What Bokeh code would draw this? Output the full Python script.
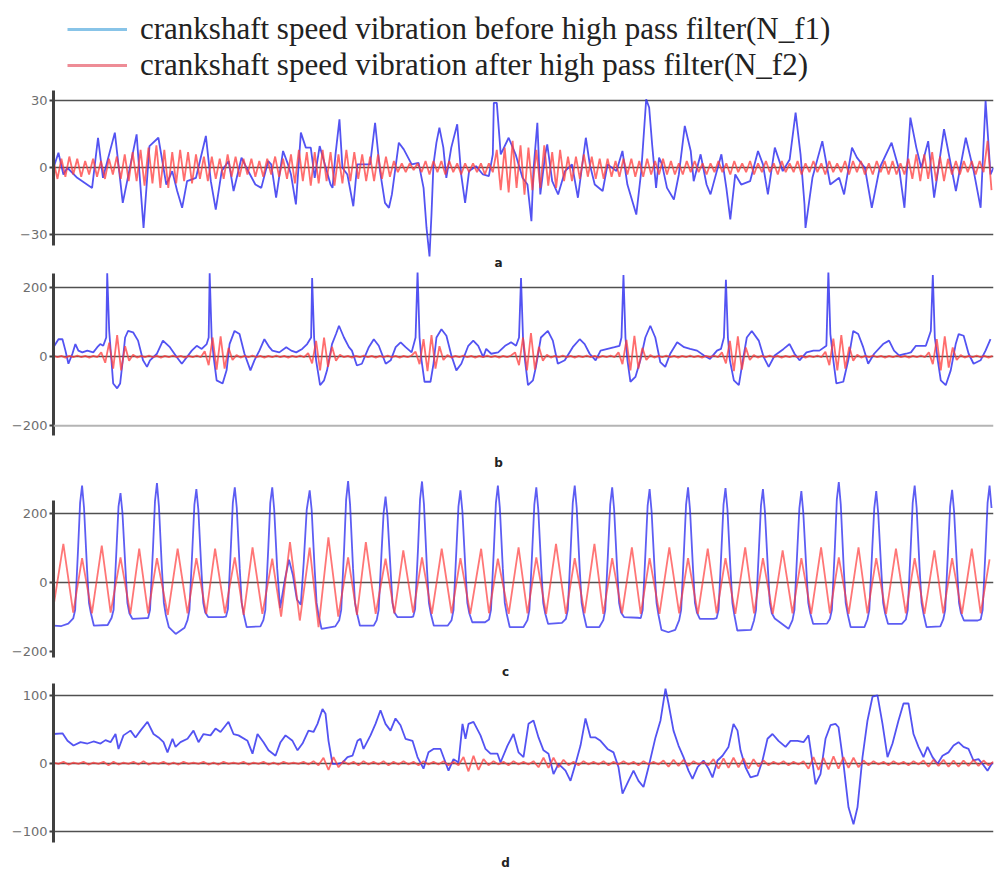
from bokeh.plotting import figure
from bokeh.models import (Range1d, FixedTicker, Legend, LegendItem, Label, Span)
from bokeh.layouts import column
from bokeh.embed import file_html
from bokeh.resources import INLINE
import numpy as np

# ---------------------------------------------------------------- data
legend_labels = [
    "crankshaft speed vibration before high pass filter(N_f1)",
    "crankshaft speed vibration after high pass filter(N_f2)",
]
panel_names = ["a", "b", "c", "d"]

ticks_a = [-30, 0, 30]
ticks_b = [-200, 0, 200]
ticks_c = [-200, 0, 200]
ticks_d = [-100, 0, 100]

# (a) speed vibration before filtering: sample time / value
blue_a_t = [0, 5, 10, 14, 24, 39, 45, 50, 62, 70,
            84, 91, 97, 106, 114, 120, 125, 130, 135, 144,
            154, 159, 164, 170, 177, 182, 190, 195, 204, 210,
            217, 220, 225, 232, 237, 240, 245, 250, 255, 260,
            264, 269, 280, 282, 285, 289, 292, 297, 303, 307,
            320, 325, 330, 335, 339, 342, 349, 354, 362, 369,
            374, 377, 380, 382, 384, 387, 390, 394, 397, 402,
            408, 412, 416, 420, 427, 434, 440, 444, 445, 448,
            452, 460, 467, 474, 479, 483, 485, 489, 492, 497,
            499, 504, 510, 517, 524, 530, 534, 538, 542, 547,
            555, 560, 569, 575, 580, 589, 594, 599, 602, 605,
            609, 612, 615, 620, 627, 632, 638, 644, 647, 654,
            660, 664, 675, 680, 684, 689, 695, 704, 712, 717,
            722, 729, 737, 744, 750, 755, 759, 760, 767, 777,
            785, 794, 799, 807, 812, 820, 827, 835, 847, 855,
            860, 866, 872, 877, 884, 890, 900, 912, 922, 930,
            937, 942, 947, 950]
blue_a_v = [0, 6.7, -3, 0, -4.5, -9, 13.4, -4.5, 15.7, -15.7,
            14.9, -26.9, 9.7, 13.4, -7.5, -1.5, -10.4, -17.9, -6, -4.5,
            14.2, -6, -18.7, -1.5, 3, -10.4, 4.5, 0, -7.5, -9,
            3, 1.5, -13.4, 7.5, 1.5, -3, -16.4, 15.7, 9, 9,
            -4.5, 9.7, -7.5, -9, 6, 21.6, 0, -3, -17.2, 1.5,
            1.5, 20.1, -1.5, -15.7, -17.9, -11.9, 11.2, 8.2, 1.5, 2.2,
            -9, -26.9, -39.6, -20.9, 1.5, 11.2, 17.9, 9, -4.5, 9,
            19.4, -3, -15.7, -1.5, 0.7, -3, -3.7, 6, 29, 29,
            6, 13.4, 6, -4.5, -7.5, -23.9, -1.5, 20.1, -11.9, 6,
            10.4, -6, -11.9, -1.5, 1.5, -13.4, 0, 13.4, 1.5, -7.5,
            -10.4, 1.5, -1.5, 7.5, -7.5, -20.9, -1.5, 30.6, 26.9, 10.4,
            -9, 4.5, 1.5, -9, -14.2, -3, 18.7, 7.5, -6, 6,
            -7.5, -11.9, 6, -9, -23.1, -3, -7.5, -6, 7.5, 1.5,
            -11.9, 9, -1.5, 3.7, 24.6, 6, -16.4, -26.9, -4.5, 11.9,
            -7.5, -4.5, -11.9, 9, 4.5, 0, -17.9, 0, 11.2, -1.5,
            -17.9, 22.4, 9, 0, 11.9, -13.4, 17.2, -10.4, 13.4, -1.5,
            -17.9, 29.9, -3, 0]

# (a) after filtering, one value every 4 samples
red_a_step = 4
red_a_v = [3, -5, 4, -4, 5, -3, 4, -4, 3, -3, 4, -4, 3, -5, 4, -3, 5, -5, 6, -6,
           7, -6, 8, -8, 9, -7, 10, -9, 8, -9, 7, -7, 8, -6, 7, -7, 6, -5, 5, -6,
           5, -5, 4, -5, 6, -4, 5, -4, 4, -3, 4, -4, 3, -4, 4, -3, 5, -4, 4, -5,
           6, -7, 8, -6, 7, -8, 7, -7, 8, -6, 7, -8, 6, -7, 8, -6, 7, -5, 6, -6,
           5, -6, 6, -5, 5, -4, 3, -2, 2, -2, 2, -1, 2, -2, 3, -3, 3, -2, 3, -3,
           3, -2, 2, -3, 2, -2, 2, -2, 2, -3, 2, -2, 8, -10, 9, -11, 12, -9, 10, -12,
           9, -10, 8, -9, 10, -8, 7, -9, 8, -6, 5, -6, 5, -5, 6, -4, 5, -5, 4, -5,
           4, -4, 3, -4, 4, -3, 4, -4, 3, -4, 4, -3, 3, -3, 4, -3, 3, -3, 2, -3,
           3, -2, 3, -2, 2, -3, 2, -2, 3, -2, 2, -3, 3, -2, 2, -2, 3, -3, 2, -2,
           3, -2, 2, -3, 3, -2, 2, -2, 3, -3, 2, -2, 3, -2, 2, -3, 3, -2, 2, -2,
           3, -3, 3, -2, 3, -3, 2, -3, 3, -2, 3, -3, 3, -3, 2, -3, 4, -5, 6, -6,
           6, -5, 7, -6, 5, -6, 4, -3, 3, -3, 3, -2, 3, -3, 3, -2, 12, -10]

# (b)
blue_b_t = [0, 5, 9, 12, 15, 19, 22, 25, 29, 34,
            40, 44, 47, 50, 53, 54, 56, 58, 60, 64,
            67, 70, 72, 75, 80, 85, 90, 94, 97, 104,
            110, 117, 124, 129, 134, 139, 144, 149, 154, 156,
            157, 159, 161, 164, 170, 174, 177, 182, 187, 192,
            198, 202, 207, 212, 217, 220, 227, 234, 239, 244,
            250, 255, 259, 260, 262, 264, 268, 272, 275, 280,
            284, 287, 292, 297, 300, 305, 310, 317, 322, 327,
            334, 339, 344, 349, 354, 360, 364, 366, 368, 370,
            373, 379, 382, 385, 390, 395, 400, 405, 410, 417,
            422, 427, 432, 435, 440, 447,
            454, 460, 465, 468, 470, 472, 474, 477, 482, 485,
            490, 497, 502, 507, 514, 522, 529, 534, 539, 545,
            550, 557, 564, 569, 571, 573, 575, 577, 580, 585,
            590, 595, 600, 605, 610, 615, 620, 627, 634, 640,
            647, 654, 660, 667, 671, 674, 676, 678, 680, 684,
            689, 693, 697, 702, 709, 714, 719, 725, 734, 740,
            745, 750, 757, 764, 770, 777, 779, 781, 784, 787,
            794, 799, 804, 809, 814, 819, 825, 834, 840, 845,
            850, 857, 862, 867, 877, 882, 884, 886, 889, 892,
            897, 902, 907, 910, 915, 920, 925, 932, 937, 942]
blue_b_v = [27, 50, 50, 17, -21, 8, 36, 17, 12, 17,
            12, 27, 36, 31, 55, 241, 74, -2, -78, -92,
            -78, -2, 55, 74, 70, 46, -11, -30, -11, 8,
            46, 27, -2, -21, -2, 17, 31, 22, 36, 55,
            241, 55, -2, -69, -78, -40, 36, 74, 65, 8,
            -40, -11, 17, 50, 27, 17, 12, 27, 17, 12,
            22, 36, 55, 227, 55, -11, -83, -69, -40, 36,
            65, 89, 55, 27, 17, -26, -21, 27, 50, 31,
            -21, -11, 27, 41, 27, 12, 55, 246, 55, -11,
            -73, -73, -21, 55, 79, 60, 3, -40, -21, 31,
            46, 31, -2, 22, 8, 12,
            31, 41, 31, 55, 227, 55, -11, -83, -69, -30,
            55, 74, 46, -21, -11, 27, 50, 36, 8, -11,
            17, 22, 27, 31, 55, 236, 55, -11, -73, -59,
            -11, 55, 89, 55, -16, -30, 8, 41, 27, 22,
            17, 3, -7, 17, 22, 55, 222, 55, -11, -69,
            -83, -11, 55, 74, 46, -2, -30, 3, 22, 36,
            8, -11, 12, 17, 17, 31, 246, 65, -11, -78,
            -73, -11, 74, 65, 27, -21, 8, 36, 46, 17,
            3, 8, 12, 31, 31, 74, 236, 55, -11, -69,
            -83, -40, 36, 65, 60, 8, -21, -11, 17, 50]

red_b_step = 4
red_b_v = [3, -2, 2, -3, 2, -2, 3, -2, 2, -3, 2, -2,
           12, -18, 40, -35, 62, -40, 30,
           -12, 5, -3, 2, -2, 3, -2, 2, -3, 2, -2, 3, -2, 2, -3, 2, -2, 3, -2,
           15, -25, 55, -38, 58, -35, 25,
           -10, 4, -3, 2, -2, 3, -2, 2, -3, 2, -2, 3, -2, 2, -3, 2, -2, 3, -2,
           10, -20, 45, -40, 55, -30, 28,
           -12, 5, -2, 2, -3, 2, -2, 3, -2, 2, -3, 2, -2, 3, -2, 2, -3, 2, -2, 3,
           14, -22, 50, -42, 62, -35, 30,
           -10, 4, -3, 2, -2, 3, -2, 2, -3, 2, -2, 3, -2, 2, -3, 2, -2, 3,
           12, -25, 55, -40, 68, -38, 28,
           -12, 5, -3, 2, -2, 3, -2, 2, -3, 2, -2, 3, -2, 2, -3, 2, -2, 3, -2,
           12, -22, 48, -40, 60, -35, 25,
           -10, 4, -3, 2, -2, 3, -2, 2, -3, 2, -2, 3, -2, 2, -3, 2, -2, 3, -2,
           12, -20, 45, -42, 58, -38, 26,
           -10, 4, -3, 2, -2, 3, -2, 2, -3, 2, -2, 3, -2, 2, -3, 2, -2, 3, -2,
           14, -25, 52, -40, 62, -35, 28,
           -12, 5, -3, 2, -2, 3, -2, 2, -3, 2, -2, 3, -2, 2, -3, 2, -2, 3, -2,
           12, -22, 50, -40, 58, -32, 26,
           -10, 4, -3, 2, -2, 3, -2, 2, -3, 2]

# (c)
blue_c_t = [0, 8, 15,
            20, 22, 25, 27, 29, 31, 34, 36, 38, 41, 55,
            59, 61, 64, 66, 68, 70, 73, 75, 77, 80, 94,
            96, 98, 101, 103, 105, 107, 110, 112, 114, 117, 124, 133,
            136, 138, 141, 143, 145, 147, 150, 152, 154, 157, 172,
            175, 177, 180, 182, 184, 186, 189, 191, 193, 196, 210,
            213, 215, 218, 220, 222, 224, 227, 230, 235, 239, 243, 247, 251,
            254, 257, 260, 262, 265, 267, 269, 272, 286,
            290, 292, 295, 297, 299, 301, 304, 306, 308, 311, 325,
            328, 330, 333, 335, 337, 339, 342, 344, 346, 349, 363,
            365, 367, 370, 372, 374, 376, 379, 381, 383, 386, 400,
            404, 406, 409, 411, 413, 415, 418, 420, 422, 425, 438,
            442, 444, 447, 449, 451, 453, 456, 458, 460, 463, 477,
            481, 483, 486, 488, 490, 492, 495, 497, 499, 502, 516,
            520, 522, 525, 527, 529, 531, 534, 536, 538, 541, 554,
            558, 560, 563, 565, 567, 569, 572, 574, 576, 579, 593,
            596, 598, 601, 603, 605, 607, 610, 612, 614, 617, 624, 631,
            635, 637, 640, 642, 644, 646, 649, 651, 653, 656, 670,
            673, 675, 678, 680, 682, 684, 687, 689, 691, 694, 708,
            711, 713, 716, 718, 720, 722, 725, 727, 729, 732, 746,
            750, 752, 755, 757, 759, 761, 764, 766, 768, 771, 785,
            788, 790, 793, 795, 797, 799, 802, 804, 806, 809, 823,
            826, 828, 831, 833, 835, 837, 840, 842, 844, 847, 861,
            865, 867, 870, 872, 874, 876, 879, 881, 883, 886, 900,
            903, 905, 908, 910, 912, 914, 917, 919, 921, 924, 938,
            941, 943, 946, 948, 950, 952]
blue_c_v = [-126, -127, -120,
            -105, -80, 100, 230, 280, 215, 40, -60, -90, -126, -124,
            -103, -80, 100, 220, 258, 200, 40, -60, -90, -106, -104,
            -104, -80, 100, 235, 287, 220, 40, -60, -95, -130, -150, -132,
            -110, -80, 100, 225, 270, 210, 40, -60, -88, -101, -101,
            -100, -78, 100, 230, 275, 215, 40, -60, -92, -130, -128,
            -110, -80, 100, 230, 275, 210, 40, -75, 10, 65, 20, -50, -65,
            60, 210, 266, 210, 40, -60, -95, -135, -128,
            -110, -80, 100, 240, 293, 225, 40, -60, -90, -126, -126,
            -110, -80, 90, 200, 248, 190, 40, -60, -88, -101, -101,
            -100, -78, 100, 240, 292, 225, 40, -60, -92, -126, -126,
            -110, -80, 100, 220, 266, 205, 40, -60, -90, -116, -116,
            -108, -80, 100, 230, 280, 215, 40, -60, -92, -130, -130,
            -110, -80, 100, 225, 275, 210, 40, -60, -90, -121, -118,
            -106, -80, 100, 230, 280, 215, 40, -60, -92, -130, -130,
            -110, -80, 100, 225, 275, 210, 40, -60, -88, -101, -103,
            -104, -80, 100, 222, 270, 205, 40, -60, -95, -138, -145, -138,
            -110, -80, 100, 225, 275, 210, 40, -60, -88, -106, -106,
            -104, -80, 100, 225, 273, 210, 40, -60, -95, -140, -138,
            -110, -80, 100, 222, 270, 205, 40, -60, -90, -105, -135,
            -110, -80, 100, 215, 264, 200, 40, -60, -90, -121, -120,
            -106, -80, 100, 240, 290, 225, 40, -60, -92, -130, -130,
            -108, -80, 100, 215, 264, 200, 40, -60, -90, -121, -121,
            -108, -80, 100, 230, 280, 215, 40, -60, -92, -130, -128,
            -108, -80, 100, 220, 268, 205, 40, -60, -90, -111, -111,
            -108, -80, 100, 230, 280, 215]

red_c_t = [0, 10, 20, 29, 39, 49, 58, 68, 78, 87,
           96, 105, 116, 126, 136, 145, 155, 164, 174, 184,
           193, 202, 212, 222, 231, 240, 250, 260, 269, 279,
           289, 299, 308, 317, 327, 337, 346, 355, 365, 374,
           384, 394, 404, 413, 423, 434, 442, 451, 462, 472,
           481, 490, 500, 510, 520, 529, 539, 549, 558, 567,
           577, 587, 596, 605, 615, 625, 635, 644, 654, 664,
           673, 682, 692, 702, 711, 720, 730, 740, 750, 759,
           769, 779, 788, 797, 807, 817, 826, 835, 845, 855,
           865, 874, 884, 894, 903, 912, 922, 932, 941, 950]
red_c_v = [-70, 111, -88, 70, -90, 106, -88, 72, -92, 97,
           -90, 70, -95, 97, -90, 70, -92, 97, -90, 72,
           -95, 101, -92, 68, -100, 116, -111, 100, -130, 130,
           -100, 72, -95, 116, -92, 68, -90, 92, -88, 72,
           -92, 97, -90, 70, -92, 97, -90, 68, -92, 101,
           -90, 72, -92, 111, -92, 70, -90, 111, -92, 70,
           -90, 101, -92, 70, -92, 101, -90, 70, -92, 97,
           -90, 70, -92, 101, -90, 70, -92, 92, -90, 70,
           -92, 101, -90, 72, -92, 101, -90, 70, -92, 97,
           -90, 70, -92, 92, -90, 70, -92, 97, -90, 66]

# (d)
blue_d_t = [0, 9, 14, 20, 27, 34, 40, 47, 52, 57,
            62, 65, 70, 77, 82, 87, 94, 100, 105, 110,
            114, 119, 122, 127, 134, 140, 145, 150, 157, 162,
            167, 175, 180, 185, 194, 199, 204, 210, 215, 222,
            227, 232, 239, 244, 249, 255, 260, 264, 269, 272,
            275, 279, 284, 289, 294, 299, 304, 307, 310, 317,
            322, 327, 332, 337, 342, 347, 352, 359, 364, 370,
            375, 380, 387, 392, 395, 400, 405, 409, 412, 415,
            420, 427, 432, 437, 444, 447,
            454, 460, 465, 470, 475, 480, 485, 490, 495, 500,
            505, 512, 517, 522, 527, 532, 537, 542, 547, 554,
            560, 565, 569, 575, 580, 585, 590, 595, 602, 607,
            612, 615, 620, 625, 630, 635, 639, 644, 650, 655,
            659, 664, 669, 675, 680, 684, 687, 692, 697, 704,
            709, 714, 719, 725, 732, 737, 744, 750, 755, 759,
            762, 767, 772, 777, 782, 785, 790, 795, 800, 804,
            809, 814, 819, 824, 829, 834, 839, 845, 850, 855,
            860, 865, 870, 874, 879, 884, 889, 895, 900, 905,
            910, 915, 920, 925, 930, 934, 939]
blue_d_v = [43, 44, 33, 26, 31, 29, 32, 29, 34, 31,
            43, 21, 41, 48, 38, 48, 61, 43, 38, 31,
            16, 36, 24, 31, 36, 48, 31, 43, 41, 51,
            46, 61, 43, 41, 33, 14, 43, 31, 19, 11,
            31, 41, 33, 19, 29, 48, 46, 58, 80, 73,
            33, -1, -1, 1, 9, 11, 33, 36, 21, 41,
            58, 78, 58, 48, 66, 56, 36, 33, 9, -8,
            16, 21, 21, 1, -11, 6, 1, 58, 36, 58,
            61, 41, 21, 14, 14, 1,
            26, 43, 16, 9, 58, 63, 38, 19, 14, -16,
            -1, -11, -26, -1, 26, 66, 38, 38, 33, 21,
            16, -6, -45, -26, -11, -26, -35, -6, 38, 63,
            110, 88, 48, 26, 9, -11, -23, -6, 4, -8,
            -21, 4, 11, 24, 58, 48, 19, -6, -21, -18,
            4, 36, 43, 33, 24, 33, 33, 31, 41, 1,
            -31, -16, 36, 56, 58, 53, -1, -65, -90, -65,
            9, 63, 98, 100, 58, 9, 29, 63, 88, 88,
            43, 24, 9, 24, 9, -1, 11, 16, 26, 31,
            24, 21, 4, 6, -3, -11, 1]

red_d_step = 5
red_d_v = [1, -1, 2, -2, 1, -1, 2, -2, 1, -1, 2, -3, 2, -2, 1, -1, 2, -2, 3, -2,
           1, -1, 2, -2, 1, -2, 2, -1, 1, -1, 2, -2, 1, -2, 2, -1, 1, -1, 2, -2,
           1, -1, 2, -2, 1, -2, 2, -1, 1, -1, 2, -2, 3, -3,
           8, -10, 9, -6,
           3, -2, 2, -3, 3, -2, 2, -2, 3, -3, 2, -2, 3, -2, 2, -3, 3, -2, 2, -2,
           3, -3, 2, -3,
           9, -12, 11, -10, 6,
           -3, 3, -2, 2, -3, 3, -2, 2, -2, 3,
           -6, 8, -7, 8, -6, 5, -3,
           2, -3, 3, -2, 2, -2, 3, -3, 2, -2, 3, -2, 2, -3, 3, -2, 2, -2,
           4, -5, 5, -4, 5, -4, 3,
           -2, 2, -3,
           6, -8, 7, -7, 8, -6, 7, -8, 6, -5, 4,
           -3, 2, -2, 3, -3, 2, -2, 3,
           -8, 9, -10, 8, -9, 10, -8, 9, -7, 8, -6, 4,
           -3, 3, -2, 2, -3, 3, -2, 2, -3, 3, -2,
           4, -5, 5, -4, 5, -5, 4, -5, 4, -4, 5, -4, 4, -3, 2]

# ---------------------------------------------------------------- style
BLUE = "#3535f0"
RED = "#ff3c3c"
GRID = "#505050"
LW = 1.8
W = 1007
LEFT = 53


def sample_axis(n, step):
    return np.arange(n) * step


def make_panel(height, top, right, yrange, bounds, ticks, grid_ticks,
               name, name_x, name_y):
    frame_w = W - LEFT - right
    p = figure(width=W, height=height, x_range=Range1d(0, frame_w),
               y_range=Range1d(*yrange), x_axis_type=None,
               toolbar_location=None, output_backend="svg",
               min_border_left=LEFT, min_border_right=right,
               min_border_top=top, min_border_bottom=0)
    p.outline_line_color = None
    p.background_fill_color = "white"
    p.border_fill_color = "white"

    ax = p.yaxis[0]
    ax.ticker = FixedTicker(ticks=ticks)
    ax.bounds = bounds
    ax.axis_line_color = "#404040"
    ax.axis_line_width = 3
    ax.major_tick_out = 4
    ax.major_tick_in = 0
    ax.major_tick_line_color = "#404040"
    ax.major_tick_line_width = 2
    ax.minor_tick_out = 0
    ax.minor_tick_in = 0
    ax.major_label_standoff = 2
    ax.major_label_text_font = "DejaVu Sans"
    ax.major_label_text_font_size = "13px"
    ax.major_label_text_color = "#6e6e6e"

    p.ygrid.ticker = FixedTicker(ticks=grid_ticks)
    p.ygrid.grid_line_color = GRID
    p.ygrid.grid_line_width = 1.6

    # panel letter, placed inside the lower edge of the frame
    p.add_layout(Label(x=name_x, y=name_y, x_units="screen", y_units="screen",
                       text=name, text_font="DejaVu Sans", text_font_style="bold",
                       text_font_size="12px", text_color="#222222",
                       text_align="center", text_baseline="middle"))
    return p


# ---------------------------------------------------------------- legend strip
lp = figure(width=W, height=85, x_range=Range1d(0, 1), y_range=Range1d(0, 1),
            x_axis_type=None, y_axis_type=None, toolbar_location=None,
            output_backend="svg", min_border=0)
lp.outline_line_color = None
lp.xgrid.visible = False
lp.ygrid.visible = False
r_before = lp.line(x=[float("nan")], y=[float("nan")], line_color="#88c4e8", line_width=3)
r_after = lp.line(x=[float("nan")], y=[float("nan")], line_color="#ee8c96", line_width=3)
legend = Legend(items=[LegendItem(label=legend_labels[0], renderers=[r_before]),
                       LegendItem(label=legend_labels[1], renderers=[r_after])],
                location=(14, 2), orientation="vertical",
                glyph_width=60, glyph_height=30, label_height=30,
                label_standoff=13, spacing=0, padding=0, margin=0,
                border_line_color=None, background_fill_alpha=0,
                label_text_font="Liberation Serif", label_text_font_size="31px",
                label_text_color="#222222")
lp.add_layout(legend)

# ---------------------------------------------------------------- panel a
pa = make_panel(187, 1, 4, (-46.8, 36.3), (-34.8, 34.5), ticks_a, ticks_a,
                panel_names[0], 445, 10)
pa.line(blue_a_t, blue_a_v, line_color=BLUE, line_width=LW, line_alpha=0.85)
pa.line(sample_axis(len(red_a_v), red_a_step), red_a_v, line_color=RED,
        line_width=LW, line_alpha=0.75)

# ---------------------------------------------------------------- panel b
pb = make_panel(198, 0, 9, (-329.7, 243), (-228, 240), ticks_b, [0, 200],
                panel_names[1], 445, 8)
pb.add_layout(Span(location=-200, dimension="width", line_color="#b4b4b4",
                   line_width=2))
pb.line(blue_b_t, blue_b_v, line_color=BLUE, line_width=LW, line_alpha=0.85)
pb.line(sample_axis(len(red_b_v), red_b_step), red_b_v, line_color=RED,
        line_width=LW, line_alpha=0.75)

# ---------------------------------------------------------------- panel c
pc = make_panel(210, 4, 0, (-284.9, 312.2), (-218, 237), ticks_c, [0, 200],
                panel_names[2], 452, 9)
pc.line(blue_c_t, blue_c_v, line_color=BLUE, line_width=LW, line_alpha=0.8)
pc.line(red_c_t, red_c_v, line_color=RED, line_width=LW, line_alpha=0.7)

# ---------------------------------------------------------------- panel d
pd = make_panel(191, 1, 14, (-159.6, 120.4), (-116.9, 117.5), ticks_d, ticks_d,
                panel_names[3], 452, 9)
pd.line(blue_d_t, blue_d_v, line_color=BLUE, line_width=LW, line_alpha=0.85)
pd.line(sample_axis(len(red_d_v), red_d_step), red_d_v, line_color=RED,
        line_width=LW, line_alpha=0.75)

layout = column(lp, pa, pb, pc, pd, spacing=0)
open("out.html", "w").write(file_html(layout, INLINE))
